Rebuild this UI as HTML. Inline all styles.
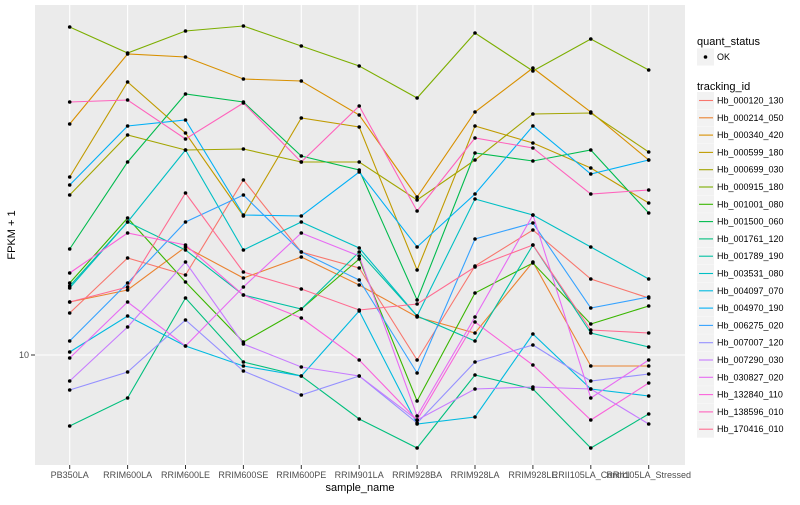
<!DOCTYPE html>
<html><head><meta charset="utf-8">
<style>
body{margin:0;background:#fff;}
svg text{font-family:"Liberation Sans",sans-serif;}
</style></head>
<body>
<svg id="chart" width="800" height="500" xmlns="http://www.w3.org/2000/svg">
<rect x="0" y="0" width="800" height="500" fill="#fff"/>
<rect x="35" y="5" width="650" height="460" fill="#EBEBEB"/>
<g id="grid"></g>
<g id="lines"></g>
<g id="points"></g>
<g id="xaxis"></g>
<g id="yaxis"></g>
<text x="360" y="491" font-size="11" text-anchor="middle" fill="#000">sample_name</text>
<text transform="translate(15,235) rotate(-90)" font-size="11" text-anchor="middle" fill="#000">FPKM + 1</text>
<g id="legend"></g>
</svg>
<script>
const categories = ["PB350LA","RRIM600LA","RRIM600LE","RRIM600SE","RRIM600PE","RRIM901LA","RRIM928BA","RRIM928LA","RRIM928LE","RRII105LA_Control","RRII105LA_Stressed"];
const seriesNames = ["Hb_000120_130","Hb_000214_050","Hb_000340_420","Hb_000599_180","Hb_000699_030","Hb_000915_180","Hb_001001_080","Hb_001500_060","Hb_001761_120","Hb_001789_190","Hb_003531_080","Hb_004097_070","Hb_004970_190","Hb_006275_020","Hb_007007_120","Hb_007290_030","Hb_030827_020","Hb_132840_110","Hb_138596_010","Hb_170416_010"];
const seriesColors = ["#F8766D","#EA8331","#D89000","#C09B00","#A3A500","#7CAE00","#39B600","#00BB4E","#00BF7D","#00C1A3","#00BFC4","#00BAE0","#00B0F6","#35A2FF","#9590FF","#C77CFF","#E76BF3","#FA62DB","#FF62BC","#FF6C91"];
// log10(FPKM + 1) per series, per sample
const s01 = [1.084,1.194,1.160,1.350,1.206,1.174,0.990,1.178,1.250,1.152,1.114];
const s02 = [1.106,1.130,1.216,1.154,1.196,1.140,1.076,1.044,1.186,0.978,0.978];
const s03 = [1.462,1.602,1.596,1.552,1.548,1.480,1.316,1.486,1.574,1.486,1.390];
const s04 = [1.356,1.546,1.444,1.278,1.474,1.456,1.170,1.458,1.424,1.374,1.304];
const s05 = [1.320,1.440,1.410,1.412,1.386,1.386,1.310,1.390,1.482,1.484,1.406];
const s06 = [1.656,1.604,1.648,1.658,1.618,1.578,1.514,1.644,1.568,1.632,1.570];
const s07 = [1.144,1.274,1.146,1.026,1.092,1.192,0.908,1.124,1.184,1.062,1.098];
const s08 = [1.212,1.386,1.522,1.506,1.398,1.370,1.110,1.404,1.388,1.410,1.284];
const s09 = [0.858,0.914,1.114,0.986,0.958,0.872,0.814,0.960,0.932,0.814,0.882];
const s10 = [1.138,1.266,1.210,1.120,1.092,1.206,1.078,1.028,1.220,1.044,1.016];
const s11 = [1.134,1.266,1.410,1.210,1.266,1.214,1.078,1.312,1.280,1.216,1.152];
const s12 = [1.006,1.078,1.018,0.978,0.958,1.088,0.862,0.876,1.042,0.932,0.918];
const s13 = [1.340,1.458,1.470,1.280,1.278,1.366,1.216,1.322,1.458,1.362,1.390];
const s14 = [1.028,1.144,1.266,1.320,1.206,1.150,0.964,1.232,1.264,1.094,1.116];
const s15 = [0.930,0.966,1.070,0.968,0.920,0.958,0.864,0.986,1.020,0.948,0.962];
const s16 = [0.948,1.056,1.186,1.022,0.976,0.958,0.870,0.932,0.936,0.932,0.862];
const s17 = [0.994,1.106,1.018,1.136,1.244,1.198,0.878,1.076,1.280,0.914,0.990];
const s18 = [1.164,1.244,1.220,1.120,1.074,0.990,0.870,1.066,0.980,0.870,0.944];
const s19 = [1.506,1.510,1.432,1.504,1.386,1.498,1.288,1.434,1.414,1.322,1.330];
const s20 = [1.106,1.136,1.324,1.166,1.132,1.090,1.102,1.176,1.220,1.050,1.044];
const seriesValues = [s01,s02,s03,s04,s05,s06,s07,s08,s09,s10,s11,s12,s13,s14,s15,s16,s17,s18,s19,s20];
const yTickValues = [1];
const yTickLabels = ["10"];

const NS = "http://www.w3.org/2000/svg";
function xScale(i){ return 69.7 + i*57.9; }
function yScale(v){ return 355 - (v-1)*500; }
function mk(tag, attrs, parent){ const e=document.createElementNS(NS,tag); for(const k in attrs) e.setAttribute(k,attrs[k]); parent.appendChild(e); return e; }

const grid=document.getElementById('grid');
categories.forEach((c,i)=>{
  const l=mk('line',{x1:xScale(i),x2:xScale(i),y1:5,y2:465,stroke:'#fff','stroke-width':1.1},grid);
  
  
});
yTickValues.forEach((v,i)=>{
  const l=mk('line',{x1:35,x2:685,y1:yScale(v),y2:yScale(v),stroke:'#fff','stroke-width':1.1},grid);
  
  
  const yax=document.getElementById('yaxis');
  const t=mk('line',{x1:31,x2:35,y1:yScale(v),y2:yScale(v),stroke:'#333','stroke-width':1},yax);
  
  
  const tx=mk('text',{x:29,y:yScale(v)+3,'font-size':9,'text-anchor':'end',fill:'#4D4D4D'},yax);
  tx.textContent=yTickLabels[i];
  
  
});
const xax=document.getElementById('xaxis');
categories.forEach((c,i)=>{
  const t=mk('line',{x1:xScale(i),x2:xScale(i),y1:465,y2:469,stroke:'#333','stroke-width':1},xax);
  
  
  const tx=mk('text',{x:xScale(i),y:478,'font-size':9,'text-anchor':'middle',fill:'#4D4D4D'},xax);
  tx.textContent=c;
  
  
});
const lines=document.getElementById('lines'), pts=document.getElementById('points');
seriesValues.forEach((vals,s)=>{
  const d=vals.map((v,i)=>(i?'L':'M')+xScale(i).toFixed(1)+' '+yScale(v).toFixed(1)).join(' ');
  const p=mk('path',{d:d,fill:'none',stroke:seriesColors[s],'stroke-width':1.1},lines);
  
  
  vals.forEach((v,i)=>{
    const c=mk('circle',{cx:xScale(i),cy:yScale(v),r:1.8,fill:'#000'},pts);
    
    
  });
});
const lg=document.getElementById('legend');
let t=mk('text',{x:697,y:45,'font-size':11,fill:'#000'},lg); t.textContent='quant_status';


let kb=mk('rect',{x:697,y:48.5,width:17,height:17,fill:'#F2F2F2'},lg);


let c=mk('circle',{cx:705.5,cy:57,r:1.8,fill:'#000'},lg);


t=mk('text',{x:717,y:60,'font-size':9,fill:'#000'},lg); t.textContent='OK';


t=mk('text',{x:697,y:90,'font-size':11,fill:'#000'},lg); t.textContent='tracking_id';


seriesNames.forEach((n,i)=>{
  const y=100.5+i*17.3;
  const r=mk('rect',{x:697,y:y-8.5,width:17,height:17,fill:'#F2F2F2'},lg);
  
  
  const l=mk('line',{x1:699,x2:713,y1:y,y2:y,stroke:seriesColors[i],'stroke-width':1.1},lg);
  
  
  const tx=mk('text',{x:717,y:y+3,'font-size':9,fill:'#000'},lg);
  tx.textContent=n;
  
  
});
</script>
</body></html>
